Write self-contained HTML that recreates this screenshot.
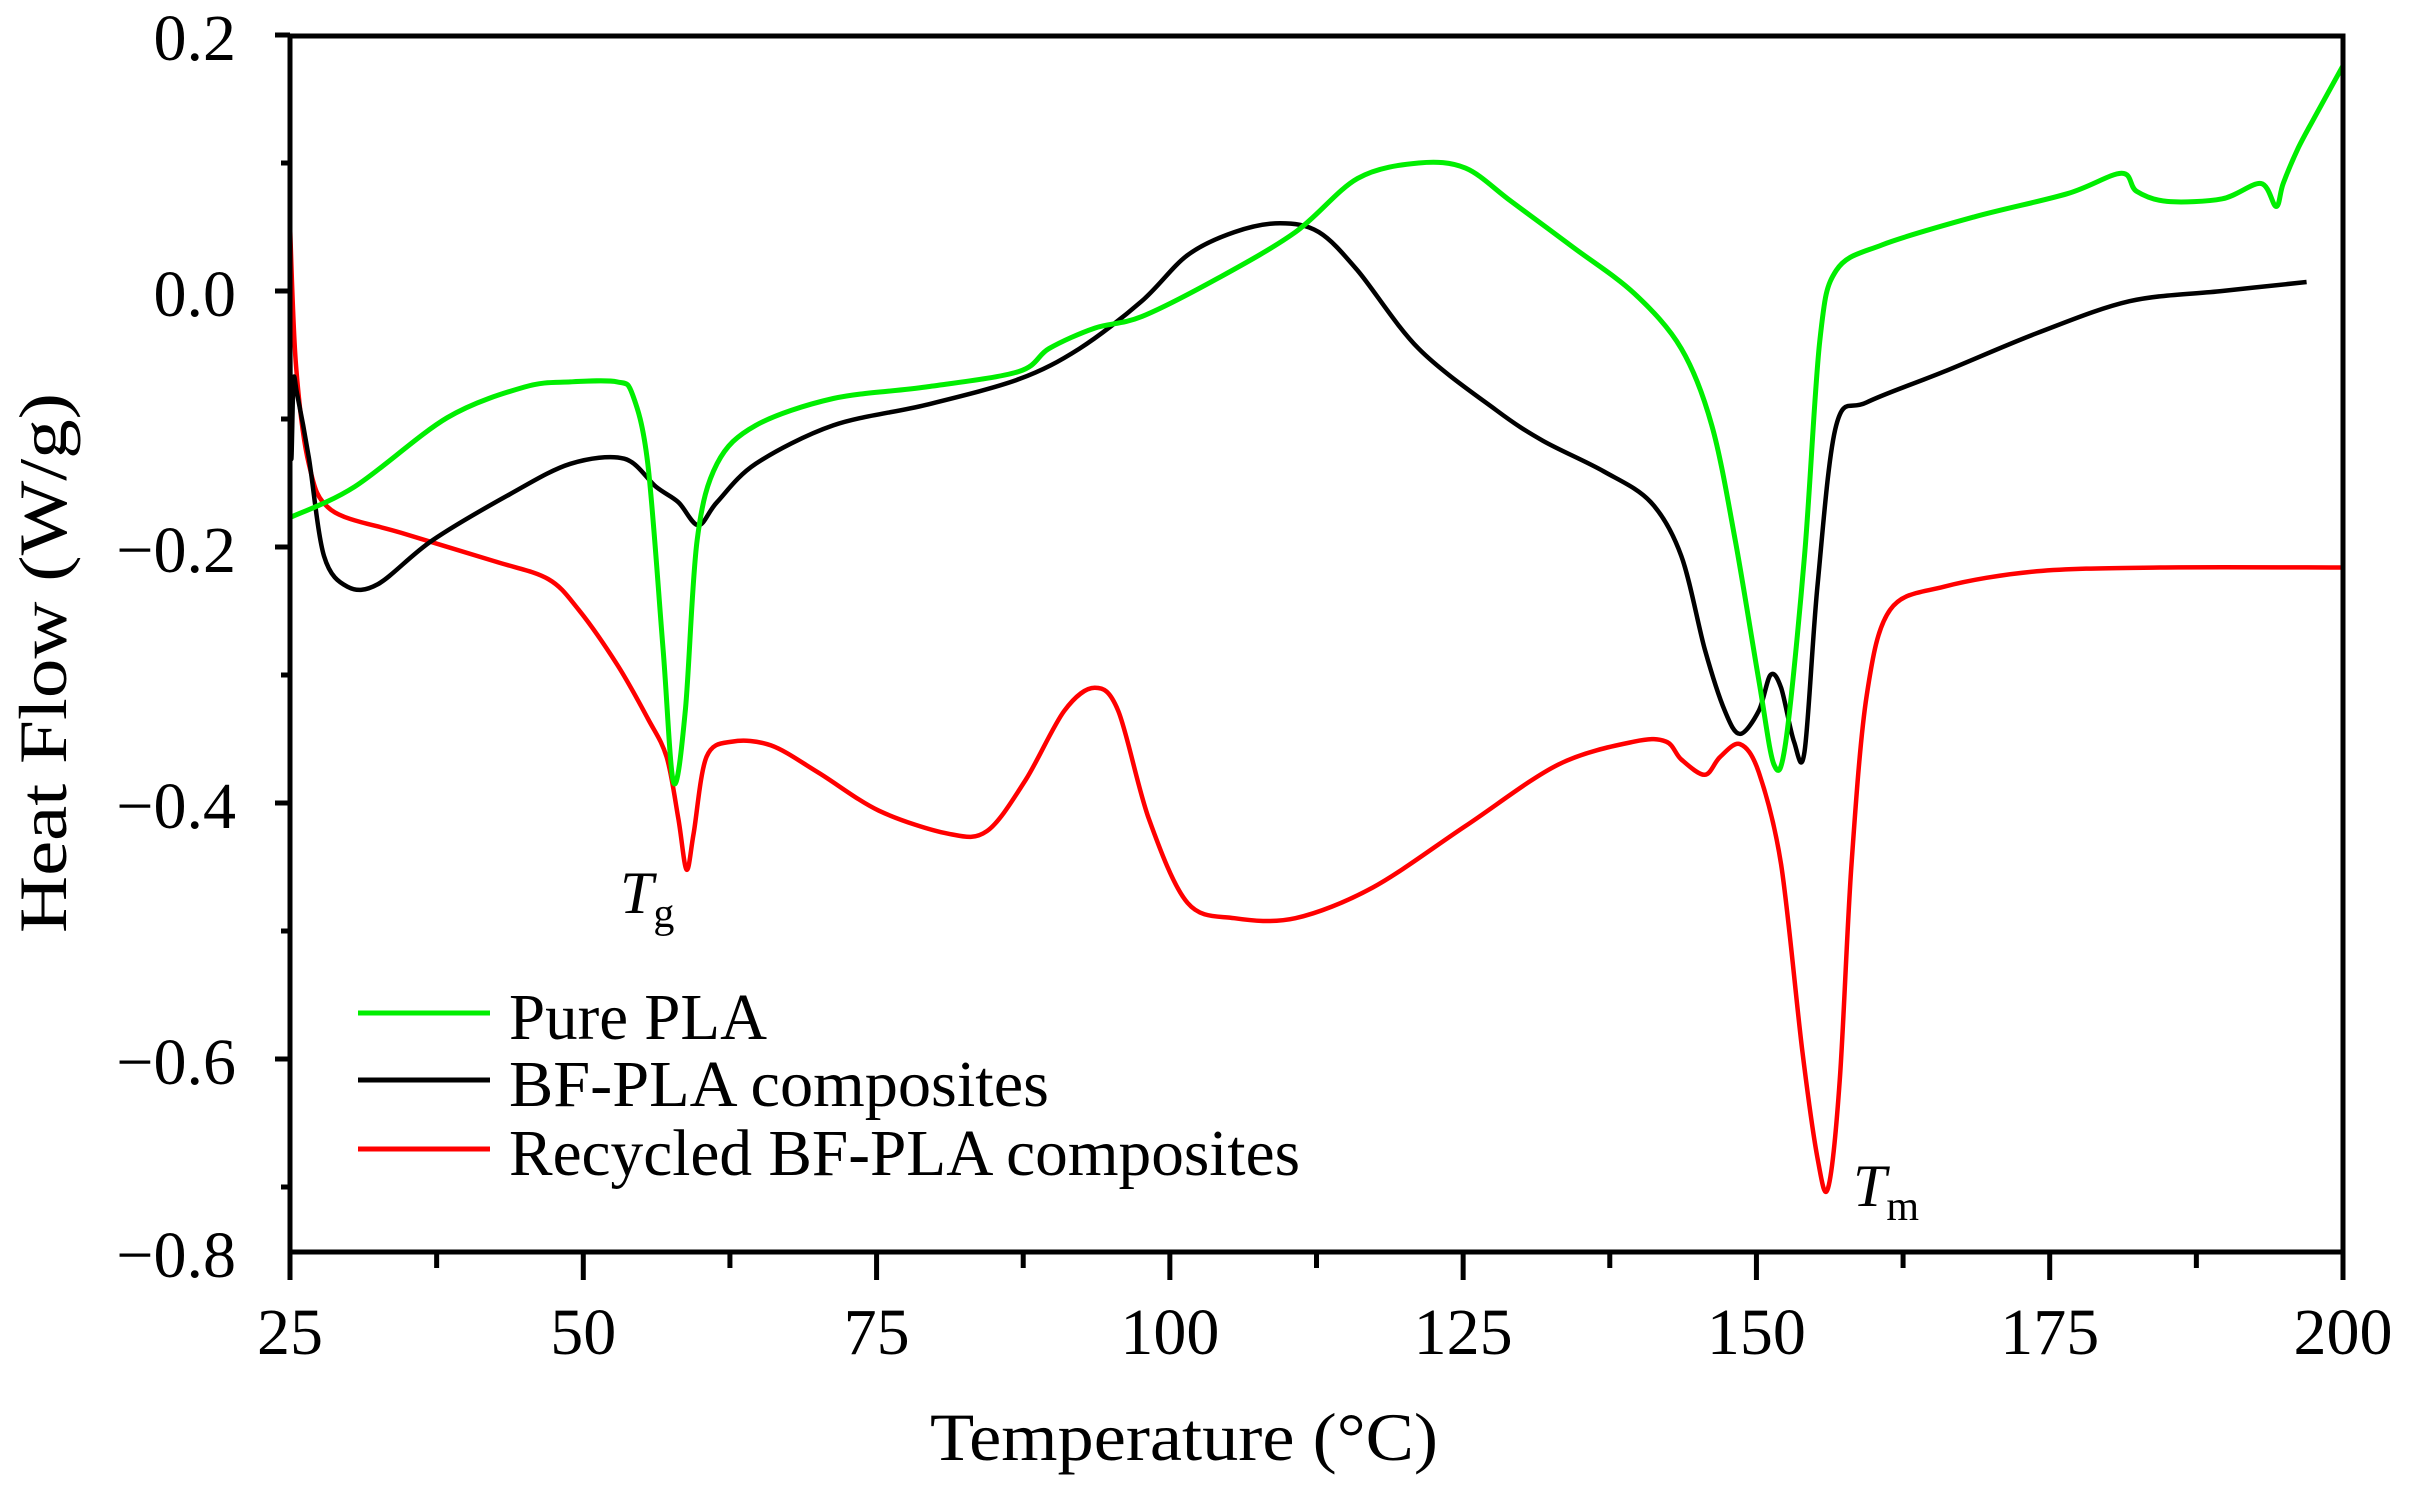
<!DOCTYPE html>
<html><head><meta charset="utf-8"><style>
html,body{margin:0;padding:0;background:#fff;}
svg{display:block;font-family:"Liberation Serif","DejaVu Serif",serif;}
</style></head><body>
<svg id="chart" width="2419" height="1486" viewBox="0 0 2419 1486" xmlns="http://www.w3.org/2000/svg">
<rect x="0" y="0" width="2419" height="1486" fill="#fff"/>
<g id="plot"></g>
</svg>
<script>
const xTicks = [25, 50, 75, 100, 125, 150, 175, 200];
const xTickLabels = ["25", "50", "75", "100", "125", "150", "175", "200"];
const yTicks = [0.2, 0.0, -0.2, -0.4, -0.6];
const yTickLabels = ["0.2", "0.0", "\u22120.2", "\u22120.4", "\u22120.6"];
const pureT = [25,30.5,38.4,45,48.9,52.9,54.2,55.5,56.8,57.7,58.7,59.7,61.4,64.7,71.3,79.2,87.1,89.7,93.6,97.6,104.1,110.7,116,121.2,125.2,129.1,134.4,139.6,143.6,146.2,148.2,150.2,151.5,152.5,154.1,155.4,156.8,160.7,168.6,176.5,181.1,182.4,185,189.7,193,194.3,194.9,196.2,197.6,200];
const pureV = [-0.177,-0.153,-0.099,-0.075,-0.071,-0.071,-0.081,-0.135,-0.28,-0.384,-0.328,-0.195,-0.135,-0.105,-0.084,-0.075,-0.063,-0.045,-0.029,-0.02,0.01,0.046,0.088,0.1,0.096,0.07,0.034,-0.002,-0.045,-0.105,-0.195,-0.304,-0.37,-0.352,-0.207,-0.039,0.016,0.036,0.058,0.076,0.092,0.078,0.07,0.072,0.084,0.066,0.084,0.112,0.136,0.176];
const bfT = [25,25.1,25.3,25.6,26.6,27.9,29.9,32.5,37.1,43.7,48.9,53.5,56.2,58.1,59.8,61.4,64.7,71.3,79.2,87.1,92.3,97.6,101.5,105.5,109.4,112.7,116,121.2,127.8,131.8,137,141,143.6,145.6,147.3,148.6,150.2,151.2,152.1,153.2,154.1,155.2,156.8,159.4,166,173.9,181.8,189.7,196.9];
const bfV = [0.0,-0.13,-0.07,-0.08,-0.13,-0.207,-0.231,-0.229,-0.195,-0.159,-0.135,-0.131,-0.153,-0.165,-0.183,-0.165,-0.135,-0.105,-0.089,-0.069,-0.045,-0.008,0.028,0.046,0.053,0.046,0.016,-0.045,-0.093,-0.117,-0.141,-0.165,-0.207,-0.28,-0.328,-0.346,-0.328,-0.3,-0.31,-0.352,-0.36,-0.231,-0.105,-0.087,-0.063,-0.033,-0.008,0.0,0.007];
const recT = [25,25.5,26.6,28.5,34.5,42.4,47,49.6,52.9,55.5,57.1,58.1,58.8,59.4,60.5,62.7,66,70,75.2,81.1,84.4,87.7,91,93.6,95.6,98.2,101.5,105.5,110.7,117.3,125.2,133.1,139.6,142.3,143.6,145.6,146.9,148.6,150.2,152.1,153.9,155.2,156.1,157.1,158.1,159.4,161.4,166,173.9,184.4,200];
const recV = [0.052,-0.057,-0.135,-0.171,-0.189,-0.211,-0.225,-0.249,-0.292,-0.334,-0.364,-0.412,-0.452,-0.424,-0.364,-0.352,-0.355,-0.376,-0.406,-0.424,-0.422,-0.382,-0.328,-0.31,-0.328,-0.412,-0.478,-0.49,-0.49,-0.466,-0.418,-0.37,-0.352,-0.352,-0.366,-0.378,-0.364,-0.354,-0.376,-0.448,-0.593,-0.677,-0.701,-0.617,-0.448,-0.316,-0.249,-0.231,-0.219,-0.216,-0.216];

const NS = "http://www.w3.org/2000/svg";
const L = 290, R = 2343, T = 36, B = 1252;
const xs = t => L + (t - 25) * (R - L) / 175;
const ys = v => 291 - v * 1280;
const g = document.getElementById('plot');
function mk(tag, attrs, parent) {
  const e = document.createElementNS(NS, tag);
  for (const k in attrs) e.setAttribute(k, attrs[k]);
  (parent || g).appendChild(e);
  return e;
}
function smoothPath(T_, V_) {
  const p = T_.map((t, i) => [xs(t), ys(V_[i])]);
  let d = `M${p[0][0].toFixed(1)},${p[0][1].toFixed(1)}`;
  for (let i = 0; i < p.length - 1; i++) {
    const p0 = p[Math.max(0, i - 1)], p1 = p[i], p2 = p[i + 1], p3 = p[Math.min(p.length - 1, i + 2)];
    const k = 0.16;
    const c1 = [p1[0] + (p2[0] - p0[0]) * k, p1[1] + (p2[1] - p0[1]) * k];
    const c2 = [p2[0] - (p3[0] - p1[0]) * k, p2[1] - (p3[1] - p1[1]) * k];
    d += ` C${c1[0].toFixed(1)},${c1[1].toFixed(1)} ${c2[0].toFixed(1)},${c2[1].toFixed(1)} ${p2[0].toFixed(1)},${p2[1].toFixed(1)}`;
  }
  return d;
}
// series
const sRec = mk('path', {d: smoothPath(recT, recV), fill: 'none', stroke: '#ff0000', 'stroke-width': 4.5, 'stroke-linejoin': 'round'});


const sBf = mk('path', {d: smoothPath(bfT, bfV), fill: 'none', stroke: '#000', 'stroke-width': 4.5, 'stroke-linejoin': 'round'});


const sPure = mk('path', {d: smoothPath(pureT, pureV), fill: 'none', stroke: '#00ee00', 'stroke-width': 5, 'stroke-linejoin': 'round'});



// frame
const frame = mk('path', {d: `M${L},${T} H${R} V${B} H${L} Z`, fill: 'none', stroke: '#000', 'stroke-width': 5});


// y ticks
yTicks.forEach((v, i) => {
  const y = ys(v);
  const tk = mk('line', {x1: L - 15, x2: L, y1: y, y2: y, stroke: '#000', 'stroke-width': 5});
  
  
  const m = mk('line', {x1: L - 9, x2: L, y1: ys(v - 0.1), y2: ys(v - 0.1), stroke: '#000', 'stroke-width': 5});
  
  
  const tx = mk('text', {x: 236, y: y + 25, 'text-anchor': 'end', 'font-size': 66});
  tx.textContent = yTickLabels[i];
  
  
});
const yb = mk('text', {x: 236, y: B + 25, 'text-anchor': 'end', 'font-size': 66});
yb.textContent = "\u22120.8";


// x ticks
xTicks.forEach((t, i) => {
  const x = xs(t);
  const tk = mk('line', {x1: x, x2: x, y1: B, y2: B + 28, stroke: '#000', 'stroke-width': 5});
  
  
  if (t < 200) {
    const m = mk('line', {x1: xs(t + 12.5), x2: xs(t + 12.5), y1: B, y2: B + 16, stroke: '#000', 'stroke-width': 5});
    
    
  }
  const tx = mk('text', {x: x, y: 1354, 'text-anchor': 'middle', 'font-size': 66});
  tx.textContent = xTickLabels[i];
  
  
});
// axis titles
const xt = mk('text', {x: 1184, y: 1460, 'text-anchor': 'middle', 'font-size': 68, textLength: 508, lengthAdjust: 'spacingAndGlyphs'});
xt.textContent = "Temperature (\u00B0C)";


const yt = mk('text', {x: 0, y: 0, 'text-anchor': 'middle', 'font-size': 68, textLength: 540, lengthAdjust: 'spacingAndGlyphs', transform: 'translate(66,663) rotate(-90)'});
yt.textContent = "Heat Flow (W/g)";


// legend
const legItems = [["Pure PLA", "#00ee00", 1013, 258], ["BF-PLA composites", "#000", 1080, 540], ["Recycled BF-PLA composites", "#ff0000", 1149, 791]];
legItems.forEach(it => {
  const ln = mk('line', {x1: 358, x2: 490, y1: it[2], y2: it[2], stroke: it[1], 'stroke-width': 5});
  
  
  const tx = mk('text', {x: 509, y: it[2] + 26, 'font-size': 66, textLength: it[3], lengthAdjust: 'spacingAndGlyphs'});
  tx.textContent = it[0];
  
  
});
// annotations
const tg = mk('text', {x: 620, y: 913, 'font-size': 60, 'font-style': 'italic'});
tg.textContent = "T";


const tgs = mk('tspan', {'font-size': 42, 'font-style': 'normal', dy: 14}, tg);
tgs.textContent = "g";
const tm = mk('text', {x: 1853, y: 1206, 'font-size': 60, 'font-style': 'italic'});
tm.textContent = "T";


const tms = mk('tspan', {'font-size': 42, 'font-style': 'normal', dy: 14}, tm);
tms.textContent = "m";
</script>
</body></html>
